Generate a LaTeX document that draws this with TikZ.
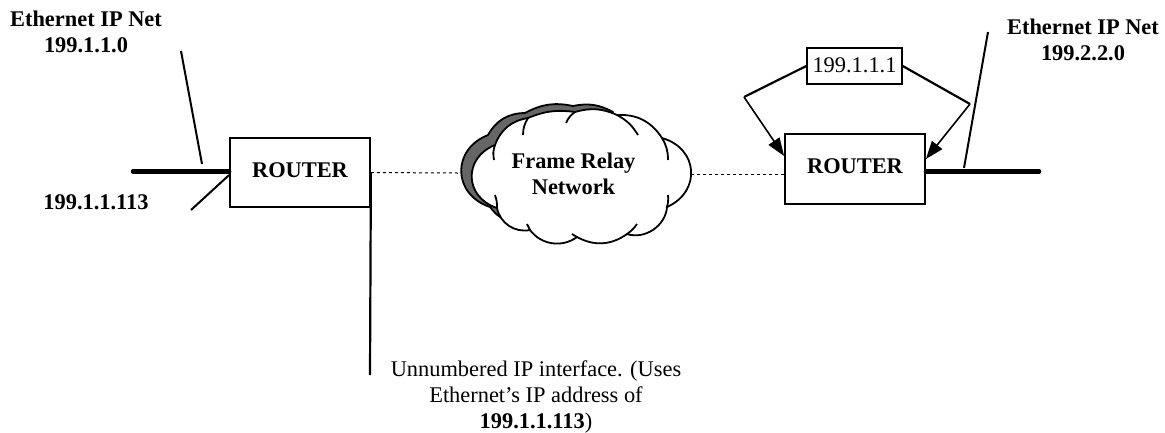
\documentclass[tikz,border=0pt]{standalone}
\usepackage{fontspec}
\setmainfont{Liberation Serif}
\usetikzlibrary{arrows.meta}
\tikzset{
  txt/.style={inner sep=0pt, align=center, font=\fontsize{22.4}{26.4}\selectfont},
  btxt/.style={txt, font=\fontsize{22.4}{26.4}\selectfont\bfseries},
  routerbox/.style={draw, line width=1.8pt, inner sep=0pt, minimum width=140pt, text height=39.5pt, text depth=30pt, font=\fontsize{22.4}{26.4}\selectfont\bfseries},
  addrbox/.style={draw, line width=1.4pt, inner sep=0pt, minimum width=95pt, text height=24pt, text depth=12pt, font=\fontsize{22.4}{26.4}\selectfont},
  bus/.style={line width=4.5pt, line cap=round},
  stub/.style={line width=2pt},
  link/.style={dash pattern=on 3pt off 3pt},
  cloudline/.style={line width=1.8pt, line join=round},
  tip/.style={-{Triangle[length=18pt,width=13pt]}, line width=1.6pt},
}
\begin{document}
\begin{tikzpicture}[x=1pt,y=-1pt]
  \useasboundingbox (0,0) rectangle (1165,432);
  % routers and labels
  \node[routerbox] (routerL) at (300,172.5) {ROUTER};
  \node[routerbox] (routerR) at (855,169) {ROUTER};
  \node[addrbox] (addr) at (854.5,66) {199.1.1.1};
  \node[btxt] (netL) at (86,32) {Ethernet IP Net\\199.1.1.0};
  \node[btxt] (netR) at (1083,40) {Ethernet IP Net\\199.2.2.0};
  \node[btxt] (hostL) at (96,202) {199.1.1.113};
  \node[txt] (note) at (536,397) {Unnumbered IP interface. (Uses\\Ethernet’s IP address of\\\textbf{199.1.1.113})};
  % free ends
  \coordinate (busL) at (133,171.5);
  \coordinate (busR) at (1039,171.5);
  \coordinate (stubL) at (181,51);
  \coordinate (stubLb) at (202,164);
  \coordinate (stubH) at (191,210);
  \coordinate (stubR) at (988,32);
  \coordinate (stubRb) at (964,168);
  \coordinate (drop) at (370,375);
  \coordinate (cloudW) at (458,173);
  \coordinate (cloudE) at (691,174.5);
  \coordinate (kneeL) at (744,97);
  \coordinate (kneeR) at (970,104);
  % back cloud
  \draw[cloudline, fill=black!60]
    (488,135) to[bend left=30] (525,113) to[bend left=20] (573,106) to[bend left=20] (613,112)
    -- (503,219) to[bend left=10] (490,207) to[bend left=70, looseness=1.4] cycle;
  % front cloud
  \coordinate (v1) at (495,145);
  \coordinate (v2) at (528,118);
  \coordinate (v3) at (575,112);
  \coordinate (v4) at (617,115);
  \coordinate (v5) at (662,138);
  \coordinate (v6) at (667,207);
  \coordinate (v7) at (627,234);
  \coordinate (v8) at (577,237);
  \coordinate (v9) at (530,230);
  \coordinate (v10) at (497,208);
  \draw[cloudline, fill=white]
    (v1) to[bend left=30] (v2) to[bend left=15] (v3) to[bend left=20] (v4) to[bend left=30] (v5)
    to[bend left=70, looseness=1.4] (v6) to[bend left=52] (v7) to[bend left=32] (v8)
    to[bend left=45] (v9) to[bend left=45] (v10) to[bend left=70, looseness=1.4] cycle;
  \draw[cloudline]
    (v1) to[bend right=15] (494,160)
    (v2) to[bend right=15] (523,135)
    (v3) to[bend right=15] (566,123)
    (v4) to[bend left=15] (638,135)
    (v5) to[bend left=15] (668,160)
    (v6) to[bend right=10] (668,195)
    (v7) to[bend right=10] (637,224)
    (v8) to[bend left=10] (572,234)
    (v9) to[bend left=10] (527,224)
    (v10) to[bend right=10] (495,195);
  \node[btxt] (cloud) at (573.5,174) {Frame Relay\\Network};
  % connectors
  \draw[bus] (busL) -- (routerL.west |- busL);
  \draw[bus] (routerR.east |- busR) -- (busR);
  \draw[stub] (stubL) -- (stubLb);
  \draw[stub] (stubH) -- (routerL.west |- 0,175);
  \draw[stub] (stubR) -- (stubRb);
  \draw[line width=2.2pt] (routerL.east) -- (drop);
  \draw[link, line width=1pt] (routerL.east) -- (cloudW);
  \draw[link, line width=1.8pt] (cloudE) -- (routerR.west |- cloudE);
  \draw[line width=2.2pt] (addr.west) -- (kneeL);
  \draw[line width=2.2pt] (addr.east) -- (kneeR);
  \draw[tip] (kneeL) -- ([yshift=13pt]routerR.west);
  \draw[tip] (kneeR) -- ([yshift=10pt]routerR.east);
\end{tikzpicture}
\end{document}
